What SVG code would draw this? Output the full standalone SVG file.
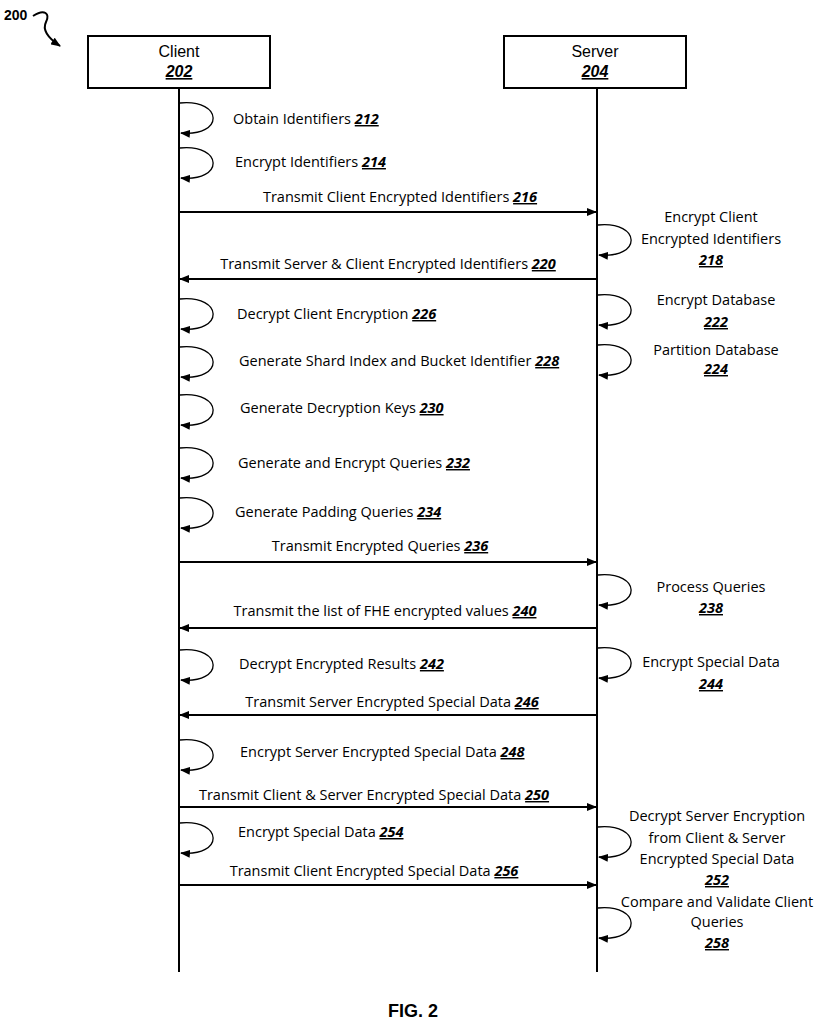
<svg xmlns="http://www.w3.org/2000/svg" width="826" height="1024" viewBox="0 0 826 1024">
<style>
.b{font-family:"Liberation Sans",Arial,sans-serif;font-size:16px;text-anchor:middle}
.t{font-family:"Open Sans","Noto Sans",sans-serif;font-size:14.5px;text-anchor:middle}
.st{text-anchor:start}
.n{font-weight:bold;font-style:italic;text-decoration:underline}
.l{stroke:#000;stroke-width:2;fill:none}
.s{stroke:#000;stroke-width:1.3;fill:none;marker-end:url(#a)}
.m{stroke:#000;stroke-width:1.8;fill:none;marker-end:url(#a)}
</style>
<defs><marker id="a" markerWidth="10" markerHeight="8" refX="9" refY="4" orient="auto" markerUnits="userSpaceOnUse"><path d="M0,0L10,4L0,8z"/></marker></defs>
<rect width="826" height="1024" fill="#fff"/>
<g id="ref"><text x="4" y="20" font-family="Liberation Sans,Arial,sans-serif" font-size="14" font-weight="bold">200</text>
<path d="M33,16 C45,8 50,14 46,22 C42,30 48,38 60,46" class="l" stroke-width="1.5" marker-end="url(#a)"/></g>
<g id="client"><rect x="88" y="36" width="182" height="52" class="l"/><text x="179" y="57" class="b">Client</text><text x="179" y="77" class="b n">202</text></g>
<g id="server"><rect x="504" y="36" width="182" height="52" class="l"/><text x="595" y="57" class="b">Server</text><text x="595" y="77" class="b n">204</text></g>
<g id="connectors">
<path d="M179,88V972M597,88V972" class="l"/>
<g id="self">
<path d="M180,103 C224,99 224,137 181,133" class="s"/>
<path d="M180,148 C224,144 224,182 181,178" class="s"/>
<path d="M598,225 C642,221 642,259 599,255" class="s"/>
<path d="M180,299 C224,295 224,333 181,329" class="s"/>
<path d="M598,295 C642,291 642,329 599,325" class="s"/>
<path d="M180,347 C224,343 224,381 181,377" class="s"/>
<path d="M598,345 C642,341 642,379 599,375" class="s"/>
<path d="M180,395 C224,391 224,429 181,425" class="s"/>
<path d="M180,448 C224,444 224,482 181,478" class="s"/>
<path d="M180,498 C224,494 224,532 181,528" class="s"/>
<path d="M598,575 C642,571 642,609 599,605" class="s"/>
<path d="M180,650 C224,646 224,684 181,680" class="s"/>
<path d="M598,648 C642,644 642,682 599,678" class="s"/>
<path d="M180,740 C224,736 224,774 181,770" class="s"/>
<path d="M180,823 C224,819 224,857 181,853" class="s"/>
<path d="M598,827 C642,823 642,861 599,857" class="s"/>
<path d="M598,908 C642,904 642,942 599,938" class="s"/>
</g>
<path d="M179,212H596" class="m"/>
<path d="M597,279H180" class="m"/>
<path d="M179,562H596" class="m"/>
<path d="M597,628H180" class="m"/>
<path d="M597,715H180" class="m"/>
<path d="M179,807H596" class="m"/>
<path d="M179,885H596" class="m"/>
</g>
<g id="labels" class="t">
<text x="233" y="124" class="st">Obtain Identifiers <tspan class="n">212</tspan></text>
<text x="235" y="167" class="st">Encrypt Identifiers <tspan class="n">214</tspan></text>
<text x="400" y="202">Transmit Client Encrypted Identifiers <tspan class="n">216</tspan></text>
<text x="711" y="222">Encrypt Client</text><text x="711" y="244">Encrypted Identifiers</text><text x="711" y="265" class="n">218</text>
<text x="388" y="269">Transmit Server &amp; Client Encrypted Identifiers <tspan class="n">220</tspan></text>
<text x="237" y="319" class="st">Decrypt Client Encryption <tspan class="n">226</tspan></text>
<text x="716" y="305">Encrypt Database</text><text x="716" y="327" class="n">222</text>
<text x="239" y="366" class="st">Generate Shard Index and Bucket Identifier <tspan class="n">228</tspan></text>
<text x="716" y="355">Partition Database</text><text x="716" y="374" class="n">224</text>
<text x="240" y="413" class="st">Generate Decryption Keys <tspan class="n">230</tspan></text>
<text x="238" y="468" class="st">Generate and Encrypt Queries <tspan class="n">232</tspan></text>
<text x="235" y="517" class="st">Generate Padding Queries <tspan class="n">234</tspan></text>
<text x="380" y="551">Transmit Encrypted Queries <tspan class="n">236</tspan></text>
<text x="711" y="592">Process Queries</text><text x="711" y="613" class="n">238</text>
<text x="385" y="616">Transmit the list of FHE encrypted values <tspan class="n">240</tspan></text>
<text x="239" y="669" class="st">Decrypt Encrypted Results <tspan class="n">242</tspan></text>
<text x="711" y="667">Encrypt Special Data</text><text x="711" y="689" class="n">244</text>
<text x="392" y="707">Transmit Server Encrypted Special Data <tspan class="n">246</tspan></text>
<text x="240" y="757" class="st">Encrypt Server Encrypted Special Data <tspan class="n">248</tspan></text>
<text x="374" y="800">Transmit Client &amp; Server Encrypted Special Data <tspan class="n">250</tspan></text>
<text x="238" y="837" class="st">Encrypt Special Data <tspan class="n">254</tspan></text>
<text x="717" y="821">Decrypt Server Encryption</text><text x="717" y="843">from Client &amp; Server</text><text x="717" y="864">Encrypted Special Data</text><text x="717" y="885" class="n">252</text>
<text x="374" y="876">Transmit Client Encrypted Special Data <tspan class="n">256</tspan></text>
<text x="717" y="907">Compare and Validate Client</text><text x="717" y="927">Queries</text><text x="717" y="948" class="n">258</text>
</g>
<text x="413" y="1017" font-family="Liberation Sans,Arial,sans-serif" font-size="18" font-weight="bold" text-anchor="middle">FIG. 2</text>
</svg>
